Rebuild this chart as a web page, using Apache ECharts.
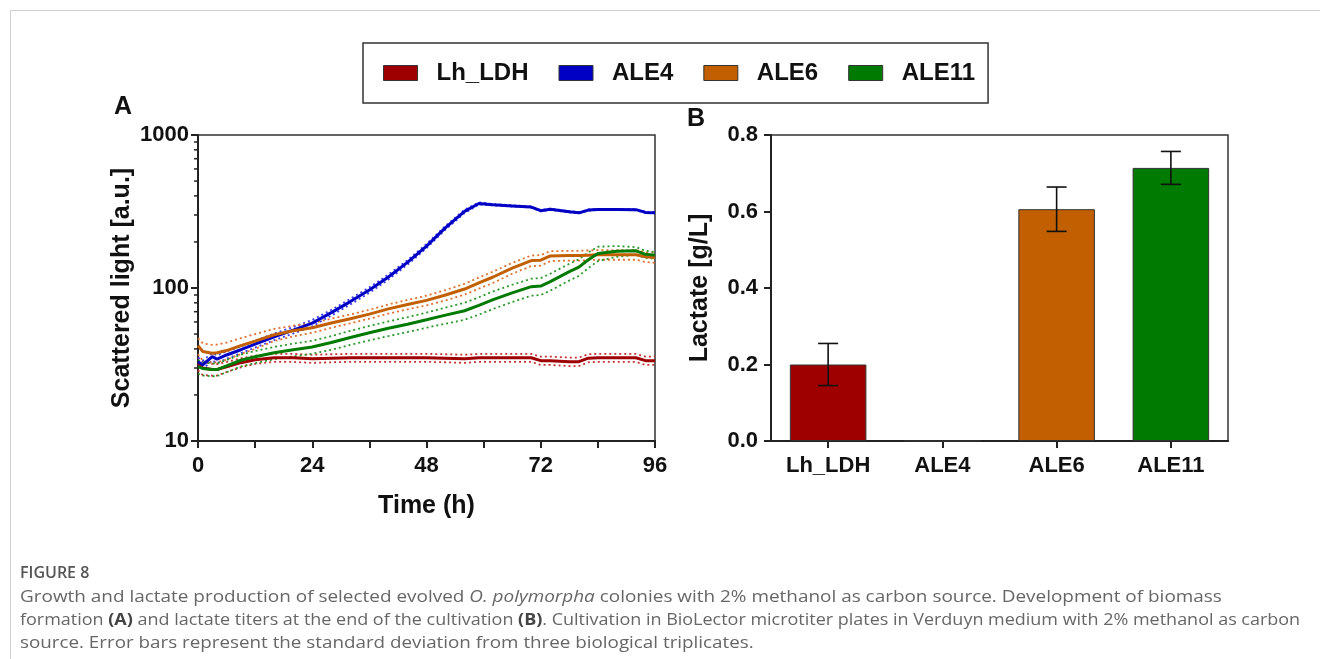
<!DOCTYPE html>
<html>
<head>
<meta charset="utf-8">
<script src="https://cdn.jsdelivr.net/npm/echarts@6/dist/echarts.min.js"></script>
<style>
    body { margin: 0; background: #fff; }
    #frame { position: absolute; left: 10px; top: 10px; width: 1310px; height: 649px; border-top: 1px solid #d0d0d0; border-left: 1px solid #d0d0d0; }
    #estrutura { position: absolute; left: 0; top: 0; width: 1320px; height: 659px; }
    .fig { position: absolute; left: 20px; top: 561px; font-family: 'Open Sans', sans-serif; font-weight: 600; font-size: 16px; color: #555; }
    .cap { position: absolute; left: 20px; font-family: 'Open Sans', sans-serif; font-size: 16px; line-height: 23px; color: #666; white-space: nowrap; transform-origin: left top; }
    .cap b { color: #444; }
</style>
</head>
<body>
<div id="frame"></div>
<div id="estrutura"></div>
<div class="fig">FIGURE 8</div>
<div class="cap" style="top:585px; transform: scaleX(1.183);">Growth and lactate production of selected evolved <i>O. polymorpha</i> colonies with 2% methanol as carbon source. Development of biomass</div>
<div class="cap" style="top:608px; transform: scaleX(1.123);">formation <b>(A)</b> and lactate titers at the end of the cultivation <b>(B)</b>. Cultivation in BioLector microtiter plates in Verduyn medium with 2% methanol as carbon</div>
<div class="cap" style="top:631px; transform: scaleX(1.175);">source. Error bars represent the standard deviation from three biological triplicates.</div>
<script>
// panel A - scattered light over time
var horas = [0, 1, 3, 4, 6, 9, 12, 16, 20, 24, 28, 32, 36, 40, 44, 48, 52, 56, 59, 62, 66, 70, 72, 74, 78, 80, 82, 84, 88, 92, 94, 96];
var lhLdh = [32, 30, 29.3, 29.3, 30.5, 32.5, 34, 35, 35, 34.5, 34.8, 35, 35, 35, 35, 35, 34.8, 34.5, 35, 35, 35, 35, 33.5, 33.5, 33, 33, 34.8, 35, 35, 35, 33.5, 33.5];
var lhLdhSd = [3, 3, 2.6, 2.5, 2.3, 2.2, 2.1, 2.1, 2.1, 2.1, 2.1, 2.1, 2.1, 2.1, 2.1, 2.1, 2.1, 2.1, 2.1, 2.1, 2.1, 2.1, 2.1, 2.1, 2.1, 2.1, 2.1, 2.1, 2.1, 2.1, 2.1, 2.1];
var ale4 = [33, 31.5, 35.6, 34.3, 36.5, 39.5, 43, 48, 53, 59, 69, 81.5, 97, 118, 147, 188, 248, 317, 357, 350, 344, 338, 320, 327, 315, 310, 323, 326, 326, 325, 312, 310];
var ale4Sd = [2, 2, 2, 2, 2, 2, 2.2, 2.4, 2.6, 2.8, 3, 3.5, 4, 4.5, 5, 6, 7, 8, 6, 4, 3, 3, 3, 3, 3, 3, 3, 3, 3, 3, 3, 3];
var ale6 = [42, 38.5, 37.5, 37.7, 39, 42, 45, 49.5, 52.5, 55, 59, 63, 67.5, 73, 78, 83, 90, 98.5, 108, 118, 135, 151, 152, 162, 163, 163, 164, 165, 165, 165, 160, 158];
var ale6Sd = [5, 5, 5, 5, 5, 5, 5, 4.5, 4.2, 4, 4, 4.2, 4.5, 5, 5.5, 6, 7, 8, 9, 10, 11, 12, 12, 12, 12, 12, 12, 12, 12, 12, 12, 12];
var ale11 = [30.6, 29.8, 29.3, 29.3, 31, 33.7, 35.5, 37.7, 39.5, 41.2, 44, 47.5, 51, 54.5, 58, 62, 66.5, 71, 77, 84, 93, 102, 103, 110, 128, 137, 153, 168, 174, 175, 166, 164];
var ale11Sd = [3, 3, 2.8, 2.8, 2.8, 3, 3.2, 3.5, 3.8, 4, 4.5, 5, 5.5, 6, 6.5, 7, 8, 9, 10, 11, 12, 13, 13, 14, 16, 17, 18, 18, 14, 10, 9, 8];
var ticksMenores = [20, 30, 40, 50, 60, 70, 80, 90, 200, 300, 400, 500, 600, 700, 800, 900];

// panel B - lactate
var cepas = ['Lh_LDH', 'ALE4', 'ALE6', 'ALE11'];
var lactato = [0.20, 0, 0.606, 0.714];
var lactatoSd = [0.055, 0, 0.058, 0.043];

var cores = ['#9e0000', '#0000c4', '#c25f00', '#007a00'];
var coresPont = ['#c83232', '#3c3cf0', '#e0702a', '#2a9a2a'];

var fonte = "'Liberation Sans', Arial, sans-serif";

function pares(valores) {
    return horas.map(function (h, i) { return [h, valores[i]]; });
}

function CriaDashboard() {
    var chartDom = document.getElementById('estrutura');
    var myChart = echarts.init(chartDom);

    var medias = [lhLdh, ale4, ale6, ale11];
    var desvios = [lhLdhSd, ale4Sd, ale6Sd, ale11Sd];
    var series = [];

    // dotted SD lines first, mean lines on top
    medias.forEach(function (m, k) {
        var sup = m.map(function (v, i) { return v + desvios[k][i]; });
        var inf = m.map(function (v, i) { return v - desvios[k][i]; });
        [sup, inf].forEach(function (arr, j) {
            series.push({
                name: cepas[k] + (j ? ' -SD' : ' +SD'),
                type: 'line', xAxisIndex: 0, yAxisIndex: 0,
                data: pares(arr), showSymbol: false, silent: true,
                lineStyle: { color: coresPont[k], width: 1.8, type: [2, 3] },
                z: 2
            });
        });
    });
    medias.forEach(function (m, k) {
        series.push({
            name: cepas[k],
            type: 'line', xAxisIndex: 0, yAxisIndex: 0,
            data: pares(m), showSymbol: false,
            color: cores[k],
            lineStyle: { color: cores[k], width: 3 },
            z: 3
        });
    });

    // minor ticks of the log axis
    series.push({
        type: 'custom', xAxisIndex: 0, yAxisIndex: 0, silent: true,
        data: ticksMenores.map(function (v) { return [0, v]; }),
        renderItem: function (params, api) {
            var p = api.coord([0, api.value(1)]);
            return { type: 'line', shape: { x1: p[0] - 4, y1: p[1], x2: p[0], y2: p[1] }, style: { stroke: '#222', lineWidth: 1.5 } };
        },
        z: 5
    });

    // bars
    series.push({
        type: 'bar', xAxisIndex: 1, yAxisIndex: 1,
        barWidth: '67%',
        data: lactato.map(function (v, i) {
            return { value: v, itemStyle: { color: cores[i], borderColor: '#333', borderWidth: 1 } };
        })
    });

    // error bars
    series.push({
        type: 'custom', xAxisIndex: 1, yAxisIndex: 1, silent: true,
        data: lactato.map(function (v, i) { return [i, v - lactatoSd[i], v + lactatoSd[i]]; }),
        renderItem: function (params, api) {
            if (api.value(2) - api.value(1) <= 0) return null;
            var lo = api.coord([api.value(0), api.value(1)]);
            var hi = api.coord([api.value(0), api.value(2)]);
            var w = 10;
            var st = { stroke: '#111', lineWidth: 1.6 };
            return {
                type: 'group',
                children: [
                    { type: 'line', shape: { x1: lo[0], y1: lo[1], x2: hi[0], y2: hi[1] }, style: st },
                    { type: 'line', shape: { x1: hi[0] - w, y1: hi[1], x2: hi[0] + w, y2: hi[1] }, style: st },
                    { type: 'line', shape: { x1: lo[0] - w, y1: lo[1], x2: lo[0] + w, y2: lo[1] }, style: st }
                ]
            };
        },
        z: 5
    });

    var eixoLinha = { show: true, lineStyle: { color: '#222', width: 2 } };
    var eixoTick = { show: true, inside: false, length: 7, lineStyle: { color: '#222', width: 2 } };
    var rotulo = { color: '#111', fontFamily: fonte, fontWeight: 'bold', fontSize: 22 };
    var nomeStyle = { color: '#111', fontFamily: fonte, fontWeight: 'bold', fontSize: 25 };

    var option = {
        animation: false,
        textStyle: { fontFamily: fonte },
        title: [
            { text: 'A', left: 114, top: 95, padding: 0, textStyle: { fontFamily: fonte, fontWeight: 'bold', fontSize: 25, color: '#111' } },
            { text: 'B', left: 687, top: 107, padding: 0, textStyle: { fontFamily: fonte, fontWeight: 'bold', fontSize: 25, color: '#111' } }
        ],
        legend: {
            data: cepas,
            left: 363, top: 43,
            padding: [18, 13, 18, 20],
            borderColor: '#333', borderWidth: 1.5,
            icon: 'rect', itemWidth: 34, itemHeight: 15, itemGap: 30,
            itemStyle: { borderColor: '#333', borderWidth: 1 },
            textStyle: { fontFamily: fonte, fontWeight: 'bold', fontSize: 24, color: '#111', padding: [0, 0, 0, 14] },
            selectedMode: false
        },
        grid: [
            { left: 198, top: 135, width: 457, height: 306, show: true, borderColor: '#333', borderWidth: 1.5 },
            { left: 771, top: 135, width: 457, height: 306, show: true, borderColor: '#333', borderWidth: 1.5 }
        ],
        xAxis: [
            {
                gridIndex: 0, type: 'value', min: 0, max: 96, interval: 12,
                name: 'Time (h)', nameLocation: 'middle', nameGap: 53, nameTextStyle: nomeStyle,
                axisLine: eixoLinha, axisTick: eixoTick, splitLine: { show: false },
                axisLabel: Object.assign({ margin: 14, formatter: function (v) { return v % 24 === 0 ? String(v) : ''; } }, rotulo)
            },
            {
                gridIndex: 1, type: 'category', data: cepas,
                axisLine: eixoLinha, axisTick: Object.assign({ alignWithLabel: true }, eixoTick),
                axisLabel: Object.assign({ margin: 14 }, rotulo)
            }
        ],
        yAxis: [
            {
                gridIndex: 0, type: 'log', logBase: 10, min: 10, max: 1000,
                name: 'Scattered light [a.u.]', nameLocation: 'middle', nameGap: 63, nameRotate: 90, nameTextStyle: nomeStyle,
                axisLine: eixoLinha, axisTick: eixoTick, splitLine: { show: false },
                axisLabel: Object.assign({ margin: 9, formatter: function (v) { return String(Math.round(v)); } }, rotulo)
            },
            {
                gridIndex: 1, type: 'value', min: 0, max: 0.8, interval: 0.2,
                name: 'Lactate [g/L]', nameLocation: 'middle', nameGap: 58, nameRotate: 90, nameTextStyle: nomeStyle,
                axisLine: eixoLinha, axisTick: eixoTick, splitLine: { show: false },
                axisLabel: Object.assign({ margin: 13, formatter: function (v) { return v.toFixed(1); } }, rotulo)
            }
        ],
        series: series
    };

    option && myChart.setOption(option);
}

CriaDashboard();
</script>
</body>
</html>
